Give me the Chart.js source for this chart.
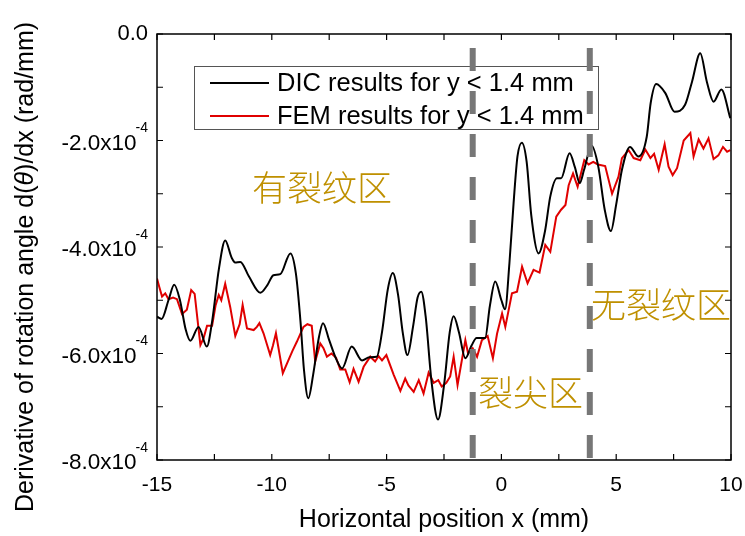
<!DOCTYPE html>
<html>
<head>
<meta charset="utf-8">
<script src="https://cdn.jsdelivr.net/npm/chart.js@4"></script>
<style>
  body { margin: 0; background: #fff; }
  #wrap { width: 745px; height: 536px; }
</style>
</head>
<body>
<div id="wrap"><canvas id="graph" width="745" height="536"></canvas></div>
<script>
// values, y in units of 1e-4 rad/mm
const dicX = [-15.0, -14.8, -14.5, -14.25, -14.0, -13.75, -13.55, -13.19, -12.83, -12.6, -12.3, -12.03, -11.75, -11.6, -11.37, -11.0, -10.5, -10.2, -9.93, -9.63, -9.19, -8.95, -8.75, -8.6, -8.41, -8.2, -7.95, -7.77, -7.5, -7.2, -6.94, -6.52, -6.07, -5.75, -5.43, -5.2, -4.95, -4.73, -4.5, -4.3, -4.09, -3.85, -3.65, -3.49, -3.3, -3.05, -2.76, -2.5, -2.25, -2.08, -1.85, -1.57, -1.3, -1.08, -0.71, -0.5, -0.27, 0.0, 0.16, 0.35, 0.53, 0.7, 0.89, 1.1, 1.3, 1.62, 1.9, 2.13, 2.42, 2.6, 2.97, 3.2, 3.41, 3.6, 3.93, 4.22, 4.5, 4.77, 5.0, 5.25, 5.6, 5.97, 6.33, 6.5, 6.74, 7.14, 7.54, 8.0, 8.3, 8.66, 8.95, 9.24, 9.58, 9.97];
const dicY = [-5.31, -5.35, -5.0, -4.71, -5.0, -5.55, -5.76, -5.5, -5.87, -5.4, -4.4, -3.88, -4.2, -4.29, -4.28, -4.55, -4.86, -4.72, -4.53, -4.51, -4.12, -4.5, -5.4, -6.3, -6.84, -6.4, -5.7, -5.43, -5.75, -6.1, -6.28, -5.87, -6.13, -6.07, -6.06, -5.6, -4.8, -4.49, -4.9, -5.6, -6.03, -5.5, -4.95, -4.84, -5.3, -6.5, -7.24, -6.6, -5.6, -5.3, -5.6, -6.09, -5.85, -5.71, -5.71, -5.1, -4.65, -5.0, -5.17, -4.3, -3.18, -2.3, -2.04, -2.4, -3.4, -4.12, -3.7, -3.05, -2.71, -2.71, -2.24, -2.5, -2.8, -2.55, -2.1, -2.49, -3.3, -3.7, -3.2, -2.55, -2.12, -2.3, -1.93, -1.3, -0.94, -1.11, -1.46, -1.33, -0.9, -0.36, -0.9, -1.27, -1.04, -1.58];

const femX = [-15.0, -14.9, -14.78, -14.64, -14.5, -14.3, -14.13, -13.91, -13.7, -13.51, -13.36, -13.2, -13.11, -12.97, -12.82, -12.6, -12.45, -12.31, -12.2, -12.03, -11.81, -11.59, -11.4, -11.27, -11.08, -10.79, -10.65, -10.54, -10.36, -10.07, -9.95, -9.82, -9.52, -9.27, -9.1, -8.91, -8.62, -8.45, -8.26, -8.11, -7.89, -7.75, -7.6, -7.4, -7.2, -7.02, -6.8, -6.61, -6.44, -6.22, -6.0, -5.71, -5.5, -5.35, -5.2, -5.01, -4.69, -4.4, -4.19, -4.05, -3.82, -3.6, -3.39, -3.17, -2.95, -2.75, -2.6, -2.4, -2.23, -2.08, -1.91, -1.57, -1.45, -1.25, -1.06, -0.85, -0.6, -0.37, -0.19, 0.03, 0.17, 0.46, 0.68, 0.9, 1.14, 1.4, 1.66, 1.91, 2.13, 2.39, 2.6, 2.79, 2.93, 3.12, 3.32, 3.61, 3.8, 4.0, 4.2, 4.52, 4.82, 5.1, 5.25, 5.54, 5.76, 6.05, 6.27, 6.49, 6.65, 6.85, 7.11, 7.28, 7.46, 7.65, 7.94, 8.23, 8.37, 8.59, 8.8, 9.02, 9.24, 9.45, 9.65, 9.83, 9.97];
const femY = [-4.59, -4.75, -4.93, -4.87, -4.98, -4.95, -4.98, -5.26, -5.18, -4.81, -4.88, -5.5, -5.84, -5.71, -5.48, -5.48, -5.1, -4.9, -5.0, -4.69, -5.13, -5.67, -5.45, -5.09, -5.53, -5.56, -5.5, -5.43, -5.62, -6.03, -5.85, -5.62, -6.37, -6.12, -5.95, -5.78, -5.5, -5.45, -5.48, -6.15, -5.81, -5.9, -6.06, -6.0, -6.08, -6.3, -6.3, -6.54, -6.29, -6.53, -6.25, -6.06, -6.15, -6.05, -6.13, -6.03, -6.4, -6.7, -6.47, -6.6, -6.72, -6.5, -6.75, -6.36, -6.55, -6.5, -6.62, -6.55, -6.43, -6.06, -6.59, -5.75, -6.0, -5.9, -6.06, -5.75, -5.67, -6.09, -5.63, -5.25, -5.5, -4.87, -4.84, -4.37, -4.68, -4.43, -4.48, -3.96, -4.09, -3.43, -3.3, -3.21, -2.84, -2.62, -2.87, -2.37, -2.45, -2.4, -2.45, -2.48, -3.0, -2.68, -2.33, -2.18, -2.33, -2.37, -2.17, -2.33, -2.25, -2.55, -2.07, -2.49, -2.65, -2.52, -2.0, -1.86, -2.3, -1.98, -2.15, -1.96, -2.35, -2.28, -2.12, -2.21, -2.18];

const zoneBounds = [-1.25, 3.85];
const xTicks = [-15, -10, -5, 0, 5, 10];
const yTicks = [0, -2, -4, -6, -8];
const legendLabels = ["DIC results for y < 1.4 mm", "FEM results for y < 1.4 mm"];
const zoneLabels = ["有裂纹区", "裂尖区", "无裂纹区"];

const SCALE = 1e-4;
const FONT = "'Liberation Sans', Arial, sans-serif";
const CJK = "'Noto Sans CJK SC', sans-serif";
const GOLD = "#bf9000";

function pts(xs, ys) {
  return xs.map((x, i) => ({ x: x, y: ys[i] * SCALE }));
}

const dashSets = zoneBounds.map((b) => ({
  data: [{ x: b, y: 0 }, { x: b, y: -8 * SCALE }],
  borderColor: "#777777",
  borderWidth: 6,
  borderDash: [23, 20],
  borderDashOffset: 29,
  borderCapStyle: "butt",
  pointRadius: 0,
  tension: 0,
  order: 0,
}));

const decor = {
  id: "decor",
  beforeDatasetsDraw(chart) {
    // legend box sits under the dashed lines
    const ctx = chart.ctx;
    ctx.save();
    ctx.fillStyle = "#fff";
    ctx.fillRect(194.5, 66.5, 404, 63);
    ctx.strokeStyle = "#555";
    ctx.lineWidth = 1;
    ctx.strokeRect(194.5, 66.5, 404, 63);
    const cols = ["#000000", "#e00000"];
    const rows = [83, 116];
    ctx.font = "25.5px " + FONT;
    ctx.textBaseline = "middle";
    ctx.textAlign = "left";
    for (let i = 0; i < 2; i++) {
      ctx.strokeStyle = cols[i];
      ctx.lineWidth = 2;
      ctx.beginPath();
      ctx.moveTo(210, rows[i]);
      ctx.lineTo(269, rows[i]);
      ctx.stroke();
      ctx.fillStyle = "#000";
      ctx.fillText(legendLabels[i], 277, rows[i] + 1);
    }
    ctx.restore();
  },
  afterDraw(chart) {
    const ctx = chart.ctx;
    const a = chart.chartArea;
    const xs = chart.scales.x;
    const ys = chart.scales.y;
    ctx.save();

    // frame
    ctx.strokeStyle = "#000";
    ctx.lineWidth = 1.5;
    ctx.strokeRect(a.left, a.top, a.right - a.left, a.bottom - a.top);

    // inward ticks on all sides
    const tl = 6;
    ctx.lineWidth = 1.2;
    ctx.beginPath();
    const xAll = [];
    xTicks.forEach((t, i) => {
      xAll.push(t);
      if (i < xTicks.length - 1) xAll.push((t + xTicks[i + 1]) / 2);
    });
    xAll.forEach((t) => {
      const px = xs.getPixelForValue(t);
      ctx.moveTo(px, a.bottom);
      ctx.lineTo(px, a.bottom - tl);
      ctx.moveTo(px, a.top);
      ctx.lineTo(px, a.top + tl);
    });
    const yAll = [];
    yTicks.forEach((t, i) => {
      yAll.push(t);
      if (i < yTicks.length - 1) yAll.push((t + yTicks[i + 1]) / 2);
    });
    yAll.forEach((t) => {
      const py = ys.getPixelForValue(t * SCALE);
      ctx.moveTo(a.left, py);
      ctx.lineTo(a.left + tl, py);
      ctx.moveTo(a.right, py);
      ctx.lineTo(a.right - tl, py);
    });
    ctx.stroke();

    // x tick labels
    ctx.fillStyle = "#000";
    ctx.font = "21px " + FONT;
    ctx.textAlign = "center";
    ctx.textBaseline = "middle";
    xTicks.forEach((t) => {
      ctx.fillText(String(t), xs.getPixelForValue(t), 485);
    });

    // y tick labels with superscript exponent
    const right = 148;
    yTicks.forEach((t) => {
      const py = ys.getPixelForValue(t * SCALE);
      ctx.textAlign = "right";
      ctx.textBaseline = "middle";
      if (t === 0) {
        ctx.font = "22px " + FONT;
        ctx.fillText("0.0", right, py);
        return;
      }
      ctx.font = "14px " + FONT;
      const sup = "-4";
      const sw = ctx.measureText(sup).width;
      ctx.fillText(sup, right, py - 12);
      ctx.font = "22.5px " + FONT;
      ctx.fillText(t.toFixed(1) + "x10", right - sw + 1, py + 3);
    });

    // axis titles
    ctx.font = "25px " + FONT;
    ctx.textAlign = "center";
    ctx.textBaseline = "alphabetic";
    ctx.fillText("Horizontal position x (mm)", (a.left + a.right) / 2, 527);

    ctx.translate(33, 267);
    ctx.rotate(-Math.PI / 2);
    const parts = [
      ["Derivative of rotation angle d(", "normal"],
      ["θ", "italic"],
      [")/dx (rad/mm)", "normal"],
    ];
    let total = 0;
    parts.forEach((p) => {
      ctx.font = p[1] + " 25px " + FONT;
      total += ctx.measureText(p[0]).width;
    });
    let cx = -total / 2;
    ctx.textAlign = "left";
    parts.forEach((p) => {
      ctx.font = p[1] + " 25px " + FONT;
      ctx.fillText(p[0], cx, 0);
      cx += ctx.measureText(p[0]).width;
    });
    ctx.restore();

    // zone labels
    ctx.save();
    ctx.fillStyle = GOLD;
    ctx.font = "300 35px " + CJK;
    ctx.textAlign = "left";
    ctx.textBaseline = "middle";
    ctx.fillText(zoneLabels[0], 252, 188);
    ctx.fillText(zoneLabels[1], 478, 393);
    ctx.fillText(zoneLabels[2], 591, 305);
    ctx.restore();
  },
};

const config = {
  type: "line",
  data: {
    datasets: [
      ...dashSets,
      {
        label: legendLabels[0],
        data: pts(dicX, dicY),
        borderColor: "#000000",
        borderWidth: 2,
        pointRadius: 0,
        cubicInterpolationMode: "monotone",
        order: 2,
      },
      {
        label: legendLabels[1],
        data: pts(femX, femY),
        borderColor: "#e00000",
        borderWidth: 2,
        pointRadius: 0,
        tension: 0,
        order: 3,
      },
    ],
  },
  options: {
    responsive: false,
    animation: false,
    devicePixelRatio: 1,
    layout: { padding: { left: 157, right: 14, top: 34, bottom: 76 } },
    plugins: { legend: { display: false }, tooltip: { enabled: false } },
    scales: {
      x: { type: "linear", min: -15, max: 10, display: false },
      y: { type: "linear", min: -8 * SCALE, max: 0, display: false },
    },
  },
  plugins: [decor],
};

new Chart(document.getElementById("graph"), config);
</script>
</body>
</html>
